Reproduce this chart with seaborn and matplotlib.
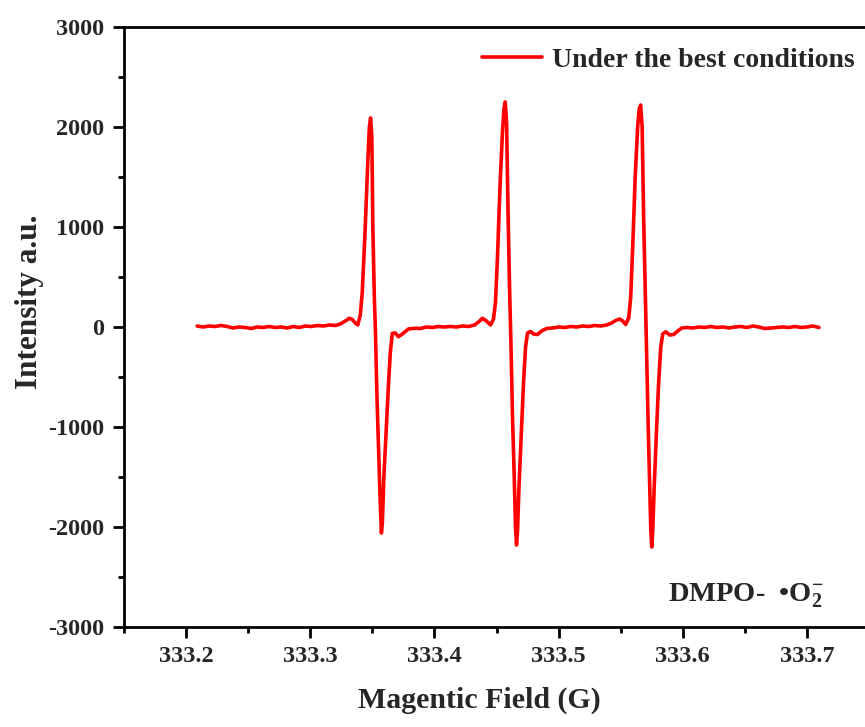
import matplotlib
matplotlib.use("Agg")
import matplotlib.pyplot as plt
import seaborn as sns
import numpy as np

# ---- data ----
field = [
    333.2089, 333.2137, 333.2185, 333.2234, 333.2282, 333.2331, 333.2379, 333.2427,
    333.2476, 333.2524, 333.2573, 333.2621, 333.2669, 333.2718, 333.2766, 333.2815,
    333.2863, 333.2911, 333.2960, 333.3008, 333.3056, 333.3105, 333.3153, 333.3202,
    333.3242, 333.3282, 333.3315, 333.3339, 333.3363, 333.3383, 333.3403, 333.3419,
    333.3441, 333.3464, 333.3476, 333.3486, 333.3496, 333.3504, 333.3516, 333.3524,
    333.3538, 333.3552, 333.3565, 333.3573, 333.3581, 333.3593, 333.3613, 333.3629,
    333.3645, 333.3661, 333.3685, 333.3710, 333.3742, 333.3790, 333.3839, 333.3887,
    333.3935, 333.3984, 333.4032, 333.4081, 333.4129, 333.4177, 333.4226, 333.4274,
    333.4323, 333.4355, 333.4387, 333.4419, 333.4452, 333.4476, 333.4492, 333.4508,
    333.4528, 333.4548, 333.4560, 333.4570, 333.4581, 333.4593, 333.4605, 333.4617,
    333.4629, 333.4645, 333.4653, 333.4661, 333.4669, 333.4681, 333.4702, 333.4718,
    333.4734, 333.4750, 333.4774, 333.4798, 333.4831, 333.4863, 333.4903, 333.4952,
    333.5000, 333.5048, 333.5097, 333.5145, 333.5194, 333.5242, 333.5290, 333.5339,
    333.5387, 333.5427, 333.5460, 333.5492, 333.5516, 333.5540, 333.5565, 333.5581,
    333.5597, 333.5617, 333.5637, 333.5649, 333.5661, 333.5673, 333.5685, 333.5698,
    333.5710, 333.5722, 333.5734, 333.5742, 333.5750, 333.5758, 333.5770, 333.5790,
    333.5806, 333.5823, 333.5839, 333.5863, 333.5895, 333.5927, 333.5960, 333.5992,
    333.6032, 333.6081, 333.6129, 333.6177, 333.6226, 333.6274, 333.6323, 333.6371,
    333.6419, 333.6468, 333.6516, 333.6565, 333.6613, 333.6661, 333.6710, 333.6758,
    333.6806, 333.6855, 333.6903, 333.6952, 333.7000, 333.7048, 333.7097,
]
intensity = [
    10, 0, 10, 5, 15, 5, -10, 0,
    -5, -15, 0, -5, 5, -5, 0, -10,
    5, -5, 10, 5, 15, 10, 20, 15,
    30, 60, 87, 75, 40, 20, 120, 350,
    940, 1670, 2000, 2090, 1900, 1000, 300, 0,
    -730, -1300, -1800, -2060, -1950, -1500, -1000, -600,
    -250, -63, -60, -97, -70, -20, -13, -15,
    0, -5, 5, 0, 5, 0, 10, 5,
    20, 50, 87, 60, 20, 80, 250, 700,
    1400, 1950, 2180, 2250, 2050, 1150, 400, -200,
    -900, -1600, -2000, -2180, -2050, -1600, -1000, -550,
    -200, -60, -45, -70, -75, -40, -15, -10,
    0, -5, 5, 0, 10, 5, 15, 10,
    20, 40, 65, 80, 60, 25, 90, 300,
    800, 1500, 2000, 2180, 2220, 2000, 1100, 350,
    -300, -1000, -1600, -2000, -2200, -2050, -1600, -1000,
    -550, -200, -70, -47, -80, -75, -40, -10,
    -5, -10, 0, -5, 5, -5, 0, -10,
    0, 5, -5, 10, 0, -15, -10, -5,
    0, -5, 5, -5, 0, 10, -5,
]
series_label = "Under the best conditions"
x_ticks = [333.2, 333.3, 333.4, 333.5, 333.6, 333.7]
y_ticks = [-3000, -2000, -1000, 0, 1000, 2000, 3000]

# ---- style ----
sns.set_style("ticks")
plt.rcParams["font.family"] = ["Liberation Serif", "DejaVu Serif"]
plt.rcParams["font.weight"] = "bold"
plt.rcParams["mathtext.fontset"] = "custom"
plt.rcParams["mathtext.rm"] = "Liberation Serif:bold"
plt.rcParams["mathtext.bf"] = "Liberation Serif:bold"
plt.rcParams["mathtext.it"] = "Liberation Serif:bold"

fig = plt.figure(figsize=(8.65, 7.27), dpi=100)
ax = fig.add_axes([124 / 865, 1 - 627 / 727, 745 / 865, 600 / 727])

sns.lineplot(x=field, y=intensity, ax=ax, color="#ff0000", linewidth=2.6,
             label=series_label, estimator=None, sort=False)

ax.set_xlim(333.15, 333.75)
ax.set_ylim(-3000, 3000)
ax.set_xticks(x_ticks)
ax.set_xticklabels([f"{t:.1f}" for t in x_ticks])
ax.set_yticks(y_ticks)
ax.set_yticklabels([str(t) for t in y_ticks])
ax.set_xticks([333.15, 333.25, 333.35, 333.45, 333.55, 333.65, 333.75], minor=True)
ax.set_yticks([-2500, -1500, -500, 500, 1500, 2500], minor=True)

for s in ax.spines.values():
    s.set_linewidth(2.0)
    s.set_color("black")
ax.tick_params(which="major", direction="out", length=8, width=2.0,
               labelsize=17.5, pad=6, color="black")
ax.tick_params(which="minor", direction="out", length=4.5, width=2.0, color="black")
for lab in ax.get_xticklabels() + ax.get_yticklabels():
    lab.set_fontweight("bold")

ax.set_xlabel("Magentic Field (G)", fontsize=21.5, fontweight="bold")
ax.set_ylabel("Intensity a.u.", fontsize=22.5, fontweight="bold")
ax.xaxis.set_label_coords(0.4765, -0.10)
ax.yaxis.set_label_coords(-0.108, 0.5417)

leg = ax.legend(loc="upper right", bbox_to_anchor=(0.995, 0.985), borderaxespad=0,
                frameon=False, handlelength=2.15, handletextpad=0.36,
                prop={"weight": "bold", "size": 20})

ax.text(0.730, 0.042, r"DMPO-  •O$_2^{-}$", transform=ax.transAxes,
        fontsize=20.5, fontweight="bold", ha="left", va="baseline")

fig.savefig("out.png", dpi=100)
